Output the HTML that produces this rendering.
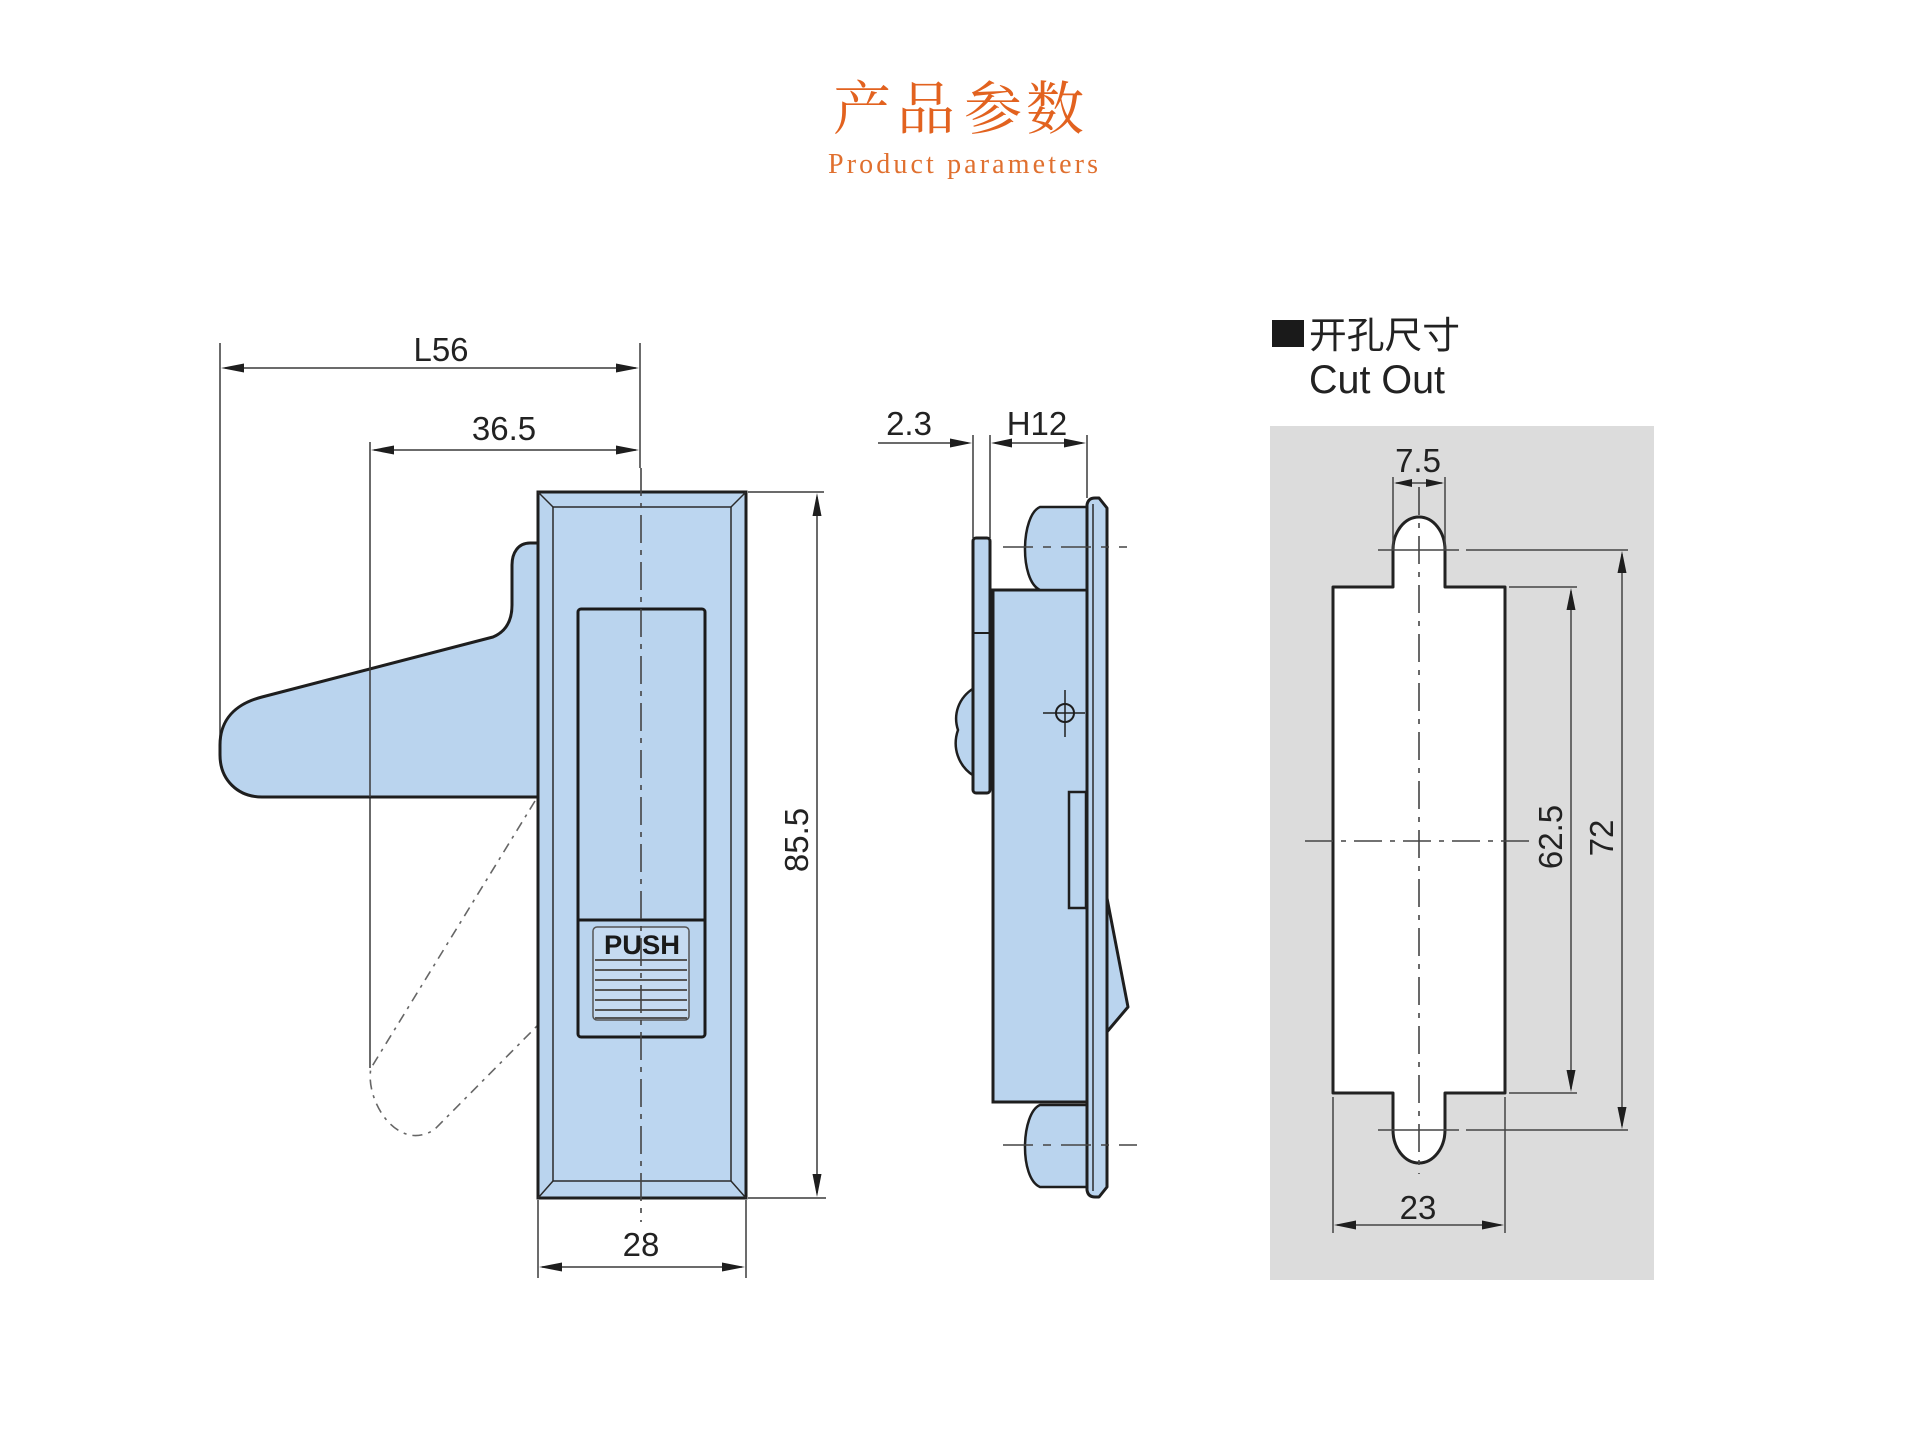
<!DOCTYPE html>
<html>
<head>
<meta charset="utf-8">
<style>
html,body{margin:0;padding:0;background:#fff;}
svg{display:block;}
</style>
</head>
<body>
<svg width="1920" height="1440" viewBox="0 0 1920 1440" xmlns="http://www.w3.org/2000/svg">
<rect x="0" y="0" width="1920" height="1440" fill="#ffffff"/>

<!-- Title -->
<g font-family="'Liberation Serif','Noto Serif CJK SC',serif" fill="#e2621f" font-size="58">
  <text x="862" y="129" text-anchor="middle">产</text>
  <text x="926" y="129" text-anchor="middle">品</text>
  <text x="993" y="129" text-anchor="middle">参</text>
  <text x="1055" y="129" text-anchor="middle">数</text>
</g>
<text x="828" y="173" font-family="'Liberation Serif',serif" font-size="28" fill="#e0702f" textLength="270" lengthAdjust="spacing">Product parameters</text>

<!-- ============ LEFT FRONT VIEW ============ -->
<g fill="none" stroke="#3a3a3a" stroke-width="1.5">
  <line x1="220" y1="343" x2="220" y2="740"/>
  <line x1="640" y1="343" x2="640" y2="468"/>
  <line x1="225" y1="368" x2="636" y2="368"/>
  <line x1="370" y1="442" x2="370" y2="1068"/>
  <line x1="374" y1="450" x2="636" y2="450"/>
  <line x1="748" y1="492" x2="824" y2="492"/>
  <line x1="748" y1="1198" x2="826" y2="1198"/>
  <line x1="817" y1="497" x2="817" y2="1193"/>
  <line x1="538" y1="1200" x2="538" y2="1278"/>
  <line x1="746" y1="1200" x2="746" y2="1278"/>
  <line x1="542" y1="1267" x2="742" y2="1267"/>
</g>
<g fill="#1e1e1e">
  <polygon points="221,368 244,363.5 244,372.5"/>
  <polygon points="639,368 616,363.5 616,372.5"/>
  <polygon points="371,450 394,445.5 394,454.5"/>
  <polygon points="639,450 616,445.5 616,454.5"/>
  <polygon points="817,493 812.5,516 821.5,516"/>
  <polygon points="817,1197 812.5,1174 821.5,1174"/>
  <polygon points="539,1267 562,1262.5 562,1271.5"/>
  <polygon points="745,1267 722,1262.5 722,1271.5"/>
</g>

<path d="M535,801 L371,1068 C366,1092 384,1130 410,1135 C420,1137 430,1133 435,1129 L540,1023" fill="none" stroke="#666" stroke-width="1.6" stroke-dasharray="10 6 3 6"/>

<path d="M540,543 L530,543 C518,543 512,553 512,565 L512,605 C512,622 505,632 493,637 L262,697 C235,704 220,720 220,745 L220,755 C220,780 238,797 262,797 L540,797 Z" fill="#bad4ee" stroke="#1e1e1e" stroke-width="3" stroke-linejoin="round"/>
<line x1="370" y1="660" x2="370" y2="797" stroke="#3a3a3a" stroke-width="1.5"/>

<rect x="538" y="492" width="208" height="706" fill="#bad4ee" stroke="#1e1e1e" stroke-width="3"/>
<rect x="553" y="507" width="178" height="674" fill="#bcd6f0" stroke="#2a2a2a" stroke-width="1.5"/>
<g stroke="#2a2a2a" stroke-width="1.5">
  <line x1="538" y1="492" x2="553" y2="507"/>
  <line x1="746" y1="492" x2="731" y2="507"/>
  <line x1="538" y1="1198" x2="553" y2="1181"/>
  <line x1="746" y1="1198" x2="731" y2="1181"/>
</g>
<rect x="578" y="609" width="127" height="428" rx="3" fill="#bad4ee" stroke="#1a1a1a" stroke-width="3"/>
<line x1="578" y1="920" x2="705" y2="920" stroke="#1a1a1a" stroke-width="3"/>
<rect x="593" y="927" width="96" height="93" rx="4" fill="#c6dbf1" stroke="#555" stroke-width="1.5"/>
<text x="642" y="954" text-anchor="middle" font-family="'Liberation Sans',sans-serif" font-weight="bold" font-size="27" fill="#1a1a1a" textLength="76" lengthAdjust="spacingAndGlyphs">PUSH</text>
<g stroke="#555" stroke-width="2">
  <line x1="595" y1="960" x2="687" y2="960"/>
  <line x1="595" y1="970" x2="687" y2="970"/>
  <line x1="595" y1="980" x2="687" y2="980"/>
  <line x1="595" y1="990" x2="687" y2="990"/>
  <line x1="595" y1="1000" x2="687" y2="1000"/>
  <line x1="595" y1="1010" x2="687" y2="1010"/>
  <line x1="595" y1="1018" x2="687" y2="1018"/>
</g>
<line x1="641" y1="468" x2="641" y2="1222" stroke="#444" stroke-width="1.6" stroke-dasharray="28 7 5 7"/>

<g font-family="'Liberation Sans',sans-serif" font-size="33" fill="#222">
  <text x="441" y="361" text-anchor="middle">L56</text>
  <text x="504" y="440" text-anchor="middle">36.5</text>
  <text x="641" y="1256" text-anchor="middle">28</text>
  <text x="796" y="852" text-anchor="middle" transform="rotate(-90 796 840)">85.5</text>
</g>

<!-- ============ MIDDLE SIDE VIEW ============ -->
<g fill="none" stroke="#3a3a3a" stroke-width="1.5">
  <line x1="878" y1="443" x2="968" y2="443"/>
  <line x1="973" y1="435" x2="973" y2="538"/>
  <line x1="990" y1="435" x2="990" y2="538"/>
  <line x1="995" y1="443" x2="1082" y2="443"/>
  <line x1="1087" y1="435" x2="1087" y2="498"/>
</g>
<g fill="#1e1e1e">
  <polygon points="972,443 950,438.5 950,447.5"/>
  <polygon points="991,443 1012,438.5 1012,447.5"/>
  <polygon points="1086,443 1064,438.5 1064,447.5"/>
</g>
<g font-family="'Liberation Sans',sans-serif" font-size="33" fill="#222">
  <text x="909" y="435" text-anchor="middle">2.3</text>
  <text x="1037" y="435" text-anchor="middle">H12</text>
</g>

<rect x="993" y="590" width="94" height="512" fill="#bad4ee" stroke="#1e1e1e" stroke-width="3"/>
<rect x="1069" y="792" width="17" height="116" fill="#bad4ee" stroke="#1e1e1e" stroke-width="2.5"/>
<path d="M1086,507 L1040,507 C1021,515 1019,580 1040,590 L1086,590" fill="#bad4ee" stroke="#1e1e1e" stroke-width="2.5"/>
<path d="M1086,1105 L1040,1105 C1021,1113 1019,1178 1040,1187 L1086,1187" fill="#bad4ee" stroke="#1e1e1e" stroke-width="2.5"/>
<path d="M1106,893 L1128,1007 L1106,1033 Z" fill="#bad4ee" stroke="#1e1e1e" stroke-width="3" stroke-linejoin="round"/>
<path d="M1087,505 Q1088,498 1095,498 L1099,498 L1107,508 L1107,1187 L1099,1197 L1095,1197 Q1088,1197 1087,1190 Z" fill="#bad4ee" stroke="#1e1e1e" stroke-width="3" stroke-linejoin="round"/>
<line x1="1093" y1="504" x2="1093" y2="1191" stroke="#2a2a2a" stroke-width="1.5"/>
<path d="M974,688 C958,698 953,715 958,730 C952,747 958,766 974,776 Z" fill="#bad4ee" stroke="#1e1e1e" stroke-width="2.5"/>
<rect x="973" y="538" width="17" height="255" rx="3" fill="#bad4ee" stroke="#1e1e1e" stroke-width="3"/>
<line x1="973" y1="633" x2="990" y2="633" stroke="#1e1e1e" stroke-width="2"/>
<circle cx="1065" cy="713" r="9" fill="none" stroke="#1e1e1e" stroke-width="2"/>
<line x1="1043" y1="713" x2="1085" y2="713" stroke="#1e1e1e" stroke-width="1.5"/>
<line x1="1065" y1="690" x2="1065" y2="737" stroke="#1e1e1e" stroke-width="1.5"/>
<line x1="1003" y1="547" x2="1127" y2="547" stroke="#444" stroke-width="1.6" stroke-dasharray="30 10 8 10"/>
<line x1="1003" y1="1145" x2="1137" y2="1145" stroke="#444" stroke-width="1.6" stroke-dasharray="30 10 8 10"/>

<!-- ============ RIGHT CUT OUT ============ -->
<rect x="1272" y="320" width="32" height="27" fill="#1a1a1a"/>
<text x="1309" y="348" font-family="'Liberation Sans','Noto Sans CJK SC',sans-serif" font-size="37" fill="#222" textLength="151" lengthAdjust="spacingAndGlyphs">开孔尺寸</text>
<text x="1309" y="393" font-family="'Liberation Sans',sans-serif" font-size="40" fill="#222" textLength="136" lengthAdjust="spacingAndGlyphs">Cut Out</text>

<g transform="translate(-6,-3)">
<rect x="1276" y="429" width="384" height="854" fill="#dcdcdc"/>
<path d="M1339,590 L1399,590 L1399,553 A26,33 0 0 1 1451,553 L1451,590 L1511,590 L1511,1096 L1451,1096 L1451,1133 A26,33 0 0 1 1399,1133 L1399,1096 L1339,1096 Z" fill="#ffffff" stroke="#222" stroke-width="3" stroke-linejoin="round"/>

<g fill="none" stroke="#444" stroke-width="1.5">
  <line x1="1399" y1="480" x2="1399" y2="553"/>
  <line x1="1451" y1="480" x2="1451" y2="553"/>
  <line x1="1402" y1="486" x2="1448" y2="486"/>
  <line x1="1384" y1="553" x2="1465" y2="553"/>
  <line x1="1472" y1="553" x2="1634" y2="553"/>
  <line x1="1384" y1="1133" x2="1465" y2="1133"/>
  <line x1="1472" y1="1133" x2="1634" y2="1133"/>
  <line x1="1515" y1="590" x2="1583" y2="590"/>
  <line x1="1515" y1="1096" x2="1583" y2="1096"/>
  <line x1="1577" y1="594" x2="1577" y2="1092"/>
  <line x1="1628" y1="557" x2="1628" y2="1129"/>
  <line x1="1339" y1="1100" x2="1339" y2="1236"/>
  <line x1="1511" y1="1100" x2="1511" y2="1236"/>
  <line x1="1343" y1="1228" x2="1507" y2="1228"/>
</g>
<g stroke="#444" stroke-width="1.6" stroke-dasharray="28 8 5 8" fill="none">
  <line x1="1425" y1="490" x2="1425" y2="1177"/>
  <line x1="1311" y1="844" x2="1540" y2="844"/>
</g>
<g fill="#1e1e1e">
  <polygon points="1400,486 1418,482 1418,490"/>
  <polygon points="1450,486 1432,482 1432,490"/>
  <polygon points="1577,591 1572.5,613 1581.5,613"/>
  <polygon points="1577,1095 1572.5,1073 1581.5,1073"/>
  <polygon points="1628,554 1623.5,576 1632.5,576"/>
  <polygon points="1628,1132 1623.5,1110 1632.5,1110"/>
  <polygon points="1340,1228 1362,1223.5 1362,1232.5"/>
  <polygon points="1510,1228 1488,1223.5 1488,1232.5"/>
</g>
<g font-family="'Liberation Sans',sans-serif" font-size="33" fill="#222">
  <text x="1424" y="475" text-anchor="middle">7.5</text>
  <text x="1424" y="1222" text-anchor="middle">23</text>
  <text x="1556" y="852" text-anchor="middle" transform="rotate(-90 1556 840)">62.5</text>
  <text x="1607" y="853" text-anchor="middle" transform="rotate(-90 1607 841)">72</text>
</g>
</g>
</svg>
</body>
</html>
